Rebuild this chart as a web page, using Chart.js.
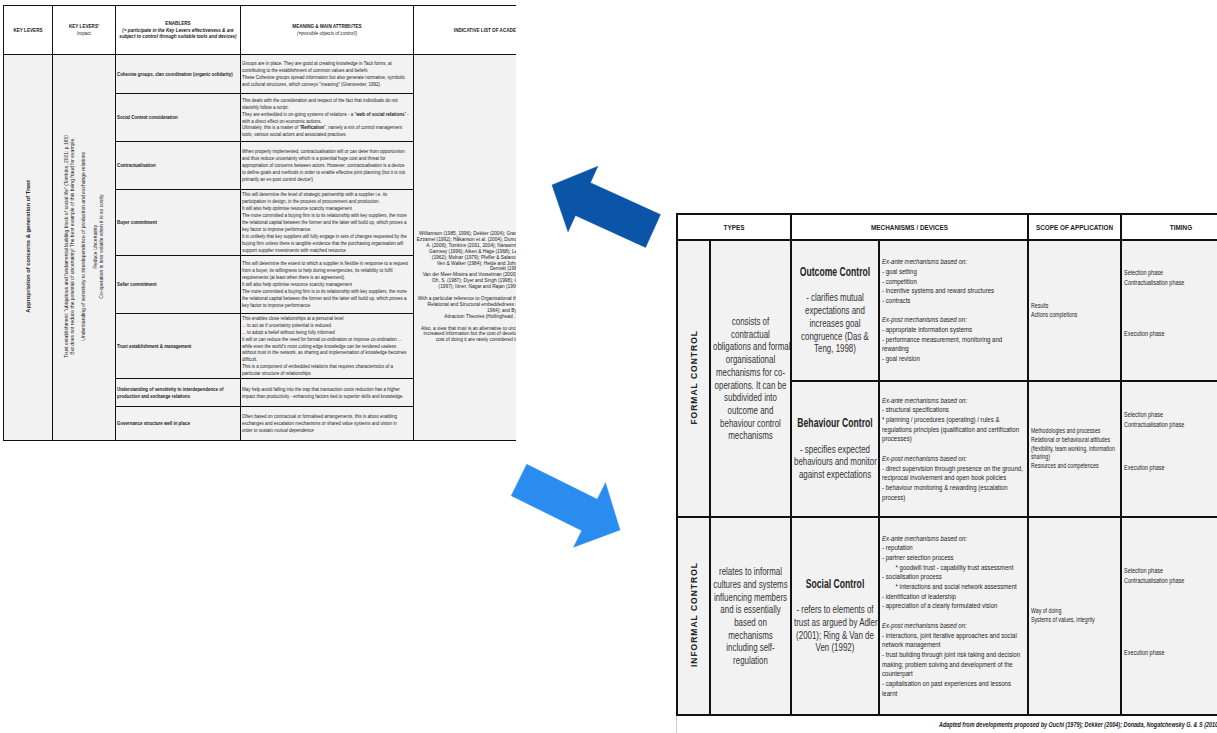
<!DOCTYPE html>
<html>
<head>
<meta charset="utf-8">
<script src="https://cdn.jsdelivr.net/npm/chart.js@4.4.1/dist/chart.umd.min.js"></script>
<style>
html, body { margin: 0; padding: 0; background: #fff; width: 1217px; height: 733px; overflow: hidden; }
body { font-family: "Liberation Sans", Arial, sans-serif; color: #222; }
table { border-collapse: collapse; table-layout: fixed; }
td, th { overflow: hidden; white-space: nowrap; }
.rot { display: inline-block; writing-mode: vertical-rl; transform: rotate(180deg); white-space: nowrap; }
.sq { transform-origin: 0 50%; }

#left { position: absolute; left: 3px; top: 5px; width: 513px; height: 437px; overflow: hidden; }
#left table { width: 594px; }
#left td, #left th { border: 1.5px solid #111; font-size: 5px; line-height: 6.9px; padding: 0 1px; vertical-align: middle; }
#left th { background: #fff; text-align: center; font-weight: normal; }
#left td { background: #f2f2f2; }
#left .en { font-weight: bold; }
#left .refs { vertical-align: top; text-align: center; font-size: 4.8px; line-height: 5.9px; }

#right { position: absolute; left: 676px; top: 213px; width: 541px; height: 520px; overflow: hidden; }
#right table { width: 564px; }
#right td, #right th { border: 2px solid #111; padding: 0 2px; vertical-align: middle; }
#right th { background: #fff; font-size: 7.5px; font-weight: bold; height: 24px; text-align: center; }
#right td { background: #f2f2f2; }
#right .big { text-align: center; font-size: 11px; line-height: 12.7px; color: #333; }
#right .big b { font-size: 12px; color: #222; }
#right .dev { font-size: 7.6px; line-height: 9.7px; }
#right .scope { font-size: 6.3px; line-height: 8.8px; }
#right .timing { font-size: 6.3px; line-height: 10px; vertical-align: top; }
#right .type { text-align: center; font-size: 8.5px; font-weight: bold; letter-spacing: 1px; }
#foot { position: absolute; left: 676px; top: 716px; width: 541px; height: 17px; border-left: 1px solid #ccc; }
#foot div { position: absolute; left: 262px; top: 5px; font-size: 7px; font-weight: bold; font-style: italic; white-space: nowrap; transform: scaleX(0.78); transform-origin: 0 50%; }
#arrows { position: absolute; left: 0; top: 0; pointer-events: none; }
</style>
</head>
<body>
<div id="left"></div>
<div id="right"></div>
<div id="foot"><div id="footText"></div></div>
<canvas id="arrows" width="1217" height="733"></canvas>
<script>
// left sheet
const leftHeaders = [
  '<b>KEY LEVERS</b>',
  '<b>KEY LEVERS\'</b><br>Impact',
  '<b>ENABLERS</b><br><b><i>(= participate in the Key Levers effectiveness &amp; are<br>subject to control through suitable tools and devices)</i></b>',
  '<b>MEANING &amp; MAIN ATTRIBUTES</b><br><i>(=possible objects of control!)</i>',
  '<b>INDICATIVE LIST OF ACADEMIC REFERENCES</b>'
];
const keyLever = 'Appropriation of concerns & generation of Trust';
const leverImpact = [
  'Trust establishment: "ubiquitous and fundamental building block of social life" (Tomkins, 2001: p.165)',
  'But does not reduce the potential of uncertainty! The best example of this being fraud for example.',
  '',
  'Understanding of sensitivity to interdependence of production and exchange relations',
  '',
  'Reduce Uncertainty',
  'Co-operation is less volatile when it is so costly'
];
const enablers = [
  'Cohesive groups, clan coordination (organic solidarity)',
  'Social Context consideration',
  'Contractualisation',
  'Buyer commitment',
  'Seller commitment',
  'Trust establishment & management',
  'Understanding of sensitivity to interdependence of|production and exchange relations',
  'Governance structure well in place'
];
const meanings = [
  ['Groups are in place. They are good at creating knowledge in Tacit forms, at',
   'contributing to the establishment of common values and beliefs',
   'These Cohesive groups spread information but also generate normative, symbolic',
   'and cultural structures, which conveys "meaning" (Granovetter, 1992)'],
  ['This deals with the consideration and respect of the fact that individuals do not',
   'slavishly follow a script.',
   'They are embedded in on-going systems of relations - a "**web of social relations**" -',
   'with a direct effect on economic actions.',
   'Ultimately, this is a matter of "**Reification**", namely a mix of control management',
   'tools, various social actors and associated practices.'],
  ['When properly implemented, contractualisation will or can deter from opportunism',
   'and thus reduce uncertainty which is a potential huge cost and threat for',
   'appropriation of concerns between actors. However, contractualisation is a device',
   'to define goals and methods in order to enable effective joint planning (but it is not',
   'primarily an ex-post control device!)'],
  ['This will determine the level of strategic partnership with a supplier i.e. its',
   'participation in design, in the process of procurement and production.',
   'It will also help optimise resource scarcity management',
   'The more committed a buying firm is to its relationship with key suppliers, the more',
   'the relational capital between the former and the latter will build up, which proves a',
   'key factor to improve performance.',
   'It is unlikely that key suppliers will fully engage in sets of changes requested by the',
   'buying firm unless there is tangible evidence that the purchasing organisation will',
   'support supplier investments with matched resource'],
  ['This will determine the extent to which a supplier is flexible in response to a request',
   'from a buyer, its willingness to help during emergencies, its reliability to fulfil',
   'requirements (at least when there is an agreement).',
   'It will also help optimise resource scarcity management',
   'The more committed a buying firm is to its relationship with key suppliers, the more',
   'the relational capital between the former and the latter will build up, which proves a',
   'key factor to improve performance'],
  ['This enables close relationships at a personal level',
   '... to act as if uncertainty potential is reduced',
   '... to adopt a belief without being fully informed',
   'It will or can reduce the need for formal co-ordination or improve co-ordination ...',
   'while even the world\'s most cutting-edge knowledge can be rendered useless',
   'without trust in the network, as sharing and implementation of knowledge becomes',
   'difficult.',
   'This is a component of embedded relations that requires characteristics of a',
   'particular structure of relationships'],
  ['May help avoid falling into the trap that transaction costs reduction has a higher',
   'impact than productivity - enhancing factors tied to superior skills and knowledge.'],
  ['Often based on contractual or formalised arrangements, this is about enabling',
   'exchanges and escalation mechanisms or shared value systems and vision in',
   'order to sustain _mutual dependence_']
];
const academicRefs = [
  'Williamson (1985, 1996); Dekker (2004); Granovetter (1985); Ouchi (1979, 1980);',
  'Ezzamel (1992); Håkanson et al. (2004); Dumond (2000); Donada & Nogatchewsky',
  'A. (2006); Tomkins (2001, 2004); Narasimhan & Nair (2005); Gulati (1995);',
  'Garnsey (1996); Aiken & Hage (1968); Levine & White (1961); Gouldner',
  '(1962); Molnar (1979); Pfeffer & Salancik, (1978); Van de Ven (1976);',
  'Ven & Walker (1984); Heide and John (1990); Anderson & Narus',
  'Demski (1980)',
  'Van der Meer-Mostra and Vosselman (2000); Tomkins (2001); Langfield-Smith',
  'Oh, S. (1987); Dyer and Singh (1998); Inkpen & Tsang (2005); Dwyer',
  '(1997); Ittner, Nagar and Rajan (1999); Baiman & Rajan (2002)',
  '',
  'With a particular reference to Organisational theories: Uzzi (1997) and Granovetter',
  'Relational and Structural embeddedness theories; Homans (1958); Blau (',
  '1964); and Byrne',
  'Attraction Theories (Hollinghead, 1949; Byrne, 1971; Lott)',
  '',
  'Also, a view that trust is an alternative to uncertainty reduction obtained through',
  'increased information but the cost of developing trust-based relations and the',
  'cost of doing it are rarely considered in the management literature'
];

// right sheet
const rightHeaders = ['TYPES', 'MECHANISMS / DEVICES', 'SCOPE OF APPLICATION', 'TIMING'];
const controlTypes = ['FORMAL CONTROL', 'INFORMAL CONTROL'];
const typeDescriptions = [
  ['consists of', 'contractual', 'obligations and formal', 'organisational', 'mechanisms for co-',
   'operations. It can be', 'subdivided into', 'outcome and', 'behaviour control', 'mechanisms'],
  ['relates to informal', 'cultures and systems', 'influencing members', 'and is essentially',
   'based on', 'mechanisms', 'including self-', 'regulation']
];
const mechanismNames = ['Outcome Control', 'Behaviour Control', 'Social Control'];
const mechanismNotes = [
  ['- clarifies mutual', 'expectations and', 'increases goal', 'congruence (Das &', 'Teng, 1998)'],
  ['- specifies expected', 'behaviours and monitor', 'against expectations'],
  ['- refers to elements of', 'trust as argued by Adler', '(2001); Ring & Van de', 'Ven (1992)']
];
const devices = [
  ['_Ex-ante mechanisms based on:_', '- goal setting', '- competition',
   '- incentive systems and reward structures', '- contracts', '',
   '_Ex-post mechanisms based on:_', '- appropriate information systems',
   '- performance measurement, monitoring and', 'rewarding', '- goal revision'],
  ['_Ex-ante mechanisms based on:_', '- structural specifications',
   '* planning / procedures (operating) / rules &',
   'regulations principles (qualification and certification', 'processes)', '',
   '_Ex-post mechanisms based on:_',
   '- direct supervision through presence on the ground,',
   'reciprocal involvement and open book policies',
   '- behaviour monitoring & rewarding (escalation', 'process)'],
  ['_Ex-ante mechanisms based on:_', '- reputation', '- partner selection process',
   '    * goodwill trust - capability trust assessment', '- socialisation process',
   '    * interactions and social network assessment', '- identification of leadership',
   '- appreciation of a clearly formulated vision', '',
   '_Ex-post mechanisms based on:_',
   '- interactions, joint iterative approaches and social', 'network management',
   '- trust building through joint risk taking and decision',
   'making; problem solving and development of the', 'counterpart',
   '- capitalisation on past experiences and lessons', 'learnt']
];
const scopes = [
  [' Results', 'Actions completions'],
  ['Methodologies and processes', 'Relational or behavioural attitudes',
   '(flexibility, team working, information', 'sharing)', 'Resources and competences'],
  ['Way of doing', 'Systems of values, integrity']
];
const timingsEarly = [
  ['Selection phase', 'Contractualisation phase'],
  ['Selection phase', 'Contractualisation phase'],
  ['Selection phase', 'Contractualisation phase']
];
const timingsLate = ['Execution phase', 'Execution phase', 'Execution phase'];
const footnote = 'Adapted from developments proposed by Ouchi (1979); Dekker (2004); Donada, Nogatchewsky G. & S (2010)';

function esc(s) {
  return s.replace(/&/g, '&amp;').replace(/</g, '&lt;').replace(/>/g, '&gt;');
}
function fmt(s) {
  return esc(s).replace(/\*\*(.+?)\*\*/g, '<b>$1</b>').replace(/_(.+?)_/g, '<i>$1</i>')
    .replace(/ {2,}/g, m => '&nbsp;'.repeat(m.length * 2));
}
function lines(arr) {
  return arr.map(l => l === '' ? '&nbsp;' : fmt(l)).join('<br>');
}
// narrow the text horizontally (the sheets use a condensed face)
function sq(html, k) {
  return `<div class="sq" style="width:${(100 / k).toFixed(2)}%;transform:scaleX(${k})">${html}</div>`;
}

// left table
const leftCols = [49, 63, 125, 173, 184];
const leftRowH = [39, 48, 48, 66, 58, 65, 28, 34];
let h = '<table><colgroup>' + leftCols.map(w => `<col style="width:${w}px">`).join('') + '</colgroup>';
h += '<tr style="height:49px">' + leftHeaders.map(t => `<th>${sq(t, 0.92)}</th>`).join('') + '</tr>';
enablers.forEach((en, i) => {
  h += `<tr style="height:${leftRowH[i]}px">`;
  if (i === 0) {
    h += `<td rowspan="8" style="text-align:center"><div class="rot" style="font-size:5.8px"><b>${esc(keyLever)}</b></div></td>`;
    h += `<td rowspan="8" style="text-align:center"><div class="rot" style="line-height:5.8px">${lines(leverImpact)}</div></td>`;
  }
  h += `<td class="en">${sq(lines(en.split('|')), 0.88)}</td>`;
  h += `<td>${sq(lines(meanings[i]), 0.9)}</td>`;
  if (i === 0) {
    h += `<td rowspan="8" class="refs"><div style="margin-top:176px">${lines(academicRefs)}</div></td>`;
  }
  h += '</tr>';
});
h += '</table>';
document.getElementById('left').innerHTML = h;

// right table
const rightCols = [33, 81, 88, 149, 93, 120];
const rightRowH = [141, 136, 198];
const timingTop = [27, 28, 48];
const timingGap = [41, 33, 62];
let r = '<table><colgroup>' + rightCols.map(w => `<col style="width:${w}px">`).join('') + '</colgroup>';
r += `<tr><th colspan="2">${sq(rightHeaders[0], 0.85)}</th><th colspan="2">${sq(rightHeaders[1], 0.85)}</th>` +
     `<th>${sq(rightHeaders[2], 0.85)}</th><th>${sq(rightHeaders[3], 0.85)}</th></tr>`;
mechanismNames.forEach((m, i) => {
  r += `<tr style="height:${rightRowH[i]}px">`;
  if (i === 0 || i === 2) {
    const t = i === 0 ? 0 : 1;
    const span = i === 0 ? 2 : 1;
    r += `<td rowspan="${span}" class="type"><div class="rot">${controlTypes[t]}</div></td>`;
    r += `<td rowspan="${span}" class="big">${sq(lines(typeDescriptions[t]), 0.72)}</td>`;
  }
  r += `<td class="big">${sq(`<b>${m}</b><br>&nbsp;<br>${lines(mechanismNotes[i])}`, 0.72)}</td>`;
  r += `<td class="dev">${sq(lines(devices[i]), 0.8)}</td>`;
  r += `<td class="scope">${sq(lines(scopes[i]), 0.83)}</td>`;
  r += `<td class="timing">${sq(`<div style="padding-top:${timingTop[i]}px">${lines(timingsEarly[i])}</div>` +
       `<div style="padding-top:${timingGap[i]}px">${esc(timingsLate[i])}</div>`, 0.87)}</td>`;
  r += '</tr>';
});
r += '</table>';
document.getElementById('right').innerHTML = r;
document.getElementById('footText').textContent = footnote;

// the two arrows, drawn on a page-sized chart
const arrowSpecs = [
  { tail: [653, 231], tip: [552, 185], shaft: 36, head: 72, headLen: 34, color: '#0b55a8' },
  { tail: [519, 480], tip: [620, 530], shaft: 35, head: 72, headLen: 34, color: '#2b8cf0' }
];

function arrowShape(a) {
  const dx = a.tip[0] - a.tail[0], dy = a.tip[1] - a.tail[1];
  const len = Math.hypot(dx, dy);
  const ux = dx / len, uy = dy / len, nx = -uy, ny = ux;
  const bx = a.tip[0] - ux * a.headLen, by = a.tip[1] - uy * a.headLen;
  const p = (x, y, s) => ({ x: x + nx * s, y: y + ny * s });
  return [
    p(a.tail[0], a.tail[1], a.shaft / 2), p(bx, by, a.shaft / 2), p(bx, by, a.head / 2),
    { x: a.tip[0], y: a.tip[1] },
    p(bx, by, -a.head / 2), p(bx, by, -a.shaft / 2), p(a.tail[0], a.tail[1], -a.shaft / 2),
    p(a.tail[0], a.tail[1], a.shaft / 2)
  ];
}
function stripe(a, d) {
  const dx = a.tip[0] - a.tail[0], dy = a.tip[1] - a.tail[1];
  const len = Math.hypot(dx, dy);
  const ux = dx / len, uy = dy / len, nx = -uy, ny = ux;
  const cx = a.tail[0] + ux * d, cy = a.tail[1] + uy * d, s = a.shaft / 2 + 1;
  return [{ x: cx + nx * s, y: cy + ny * s }, { x: cx - nx * s, y: cy - ny * s }];
}

const datasets = [];
arrowSpecs.forEach(a => {
  datasets.push({ data: arrowShape(a), showLine: true, fill: 'shape', backgroundColor: a.color,
    borderColor: a.color, borderWidth: 0.5, pointRadius: 0, tension: 0 });
  [2.6, 6.4].forEach(d => datasets.push({ data: stripe(a, d), showLine: true, fill: false,
    borderColor: '#ffffff', borderWidth: 1.6, pointRadius: 0 }));
});

new Chart(document.getElementById('arrows'), {
  type: 'scatter',
  data: { datasets: datasets },
  options: {
    responsive: false,
    animation: false,
    events: [],
    layout: { padding: 0 },
    plugins: { legend: { display: false }, tooltip: { enabled: false } },
    scales: {
      x: { type: 'linear', min: 0, max: 1217, display: false },
      y: { type: 'linear', min: 0, max: 733, reverse: true, display: false }
    }
  }
});
</script>
</body>
</html>
